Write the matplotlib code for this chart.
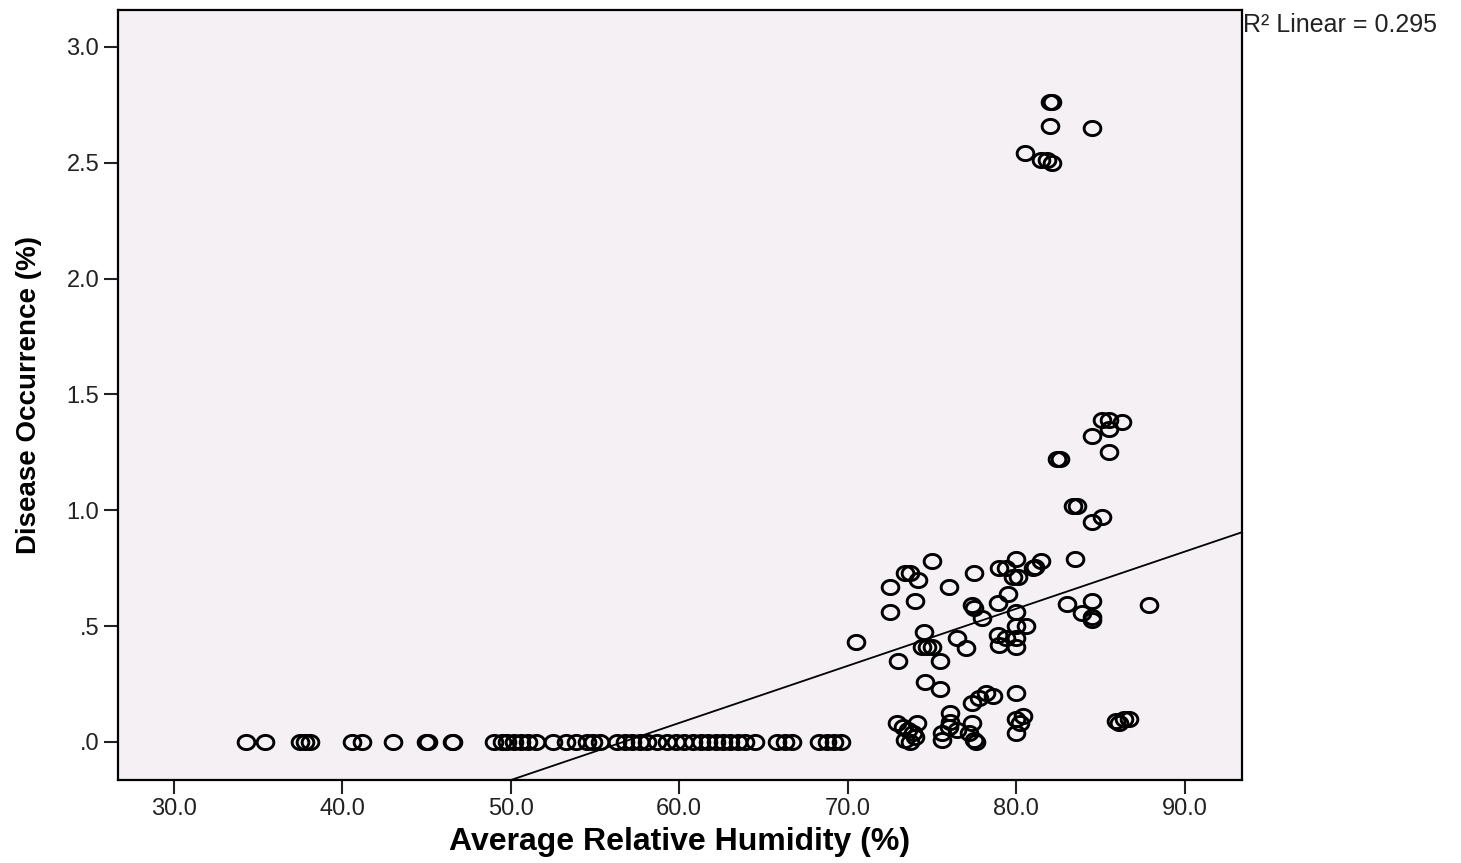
import numpy as np
import matplotlib.pyplot as plt
from matplotlib.path import Path
from matplotlib.ticker import FixedLocator, FuncFormatter

plt.rcParams['font.family'] = ['Liberation Sans', 'DejaVu Sans']

# stations with no disease recorded
x_zero = [34.3, 35.4, 37.5, 37.8, 38.1, 40.6, 41.2, 43.0, 45.0, 45.1, 46.5, 46.6,
          49.0, 49.5, 49.8, 50.2, 50.6, 51.0, 51.5, 52.5, 53.3, 53.9, 54.5, 54.9,
          55.3, 56.3, 56.8, 57.2, 57.7, 58.1, 58.7, 59.3, 59.8, 60.3, 60.8, 61.3,
          61.7, 62.2, 62.6, 63.0, 63.5, 63.9, 64.5, 65.8, 66.3, 66.7, 68.3, 68.8,
          69.2, 69.6]

# humid stations (RH %, disease %)
rh_hi = [82.0, 82.1, 82.0, 84.5, 80.5, 81.5, 81.8, 82.1,
         85.1, 85.5, 86.3, 85.5, 84.5, 85.5, 82.4, 82.6, 83.4, 83.6, 84.5, 85.1,
         81.5, 81.1, 83.5, 83.0, 84.5, 87.9, 83.9, 84.5, 84.5,
         70.5, 72.5, 72.5, 73.4, 73.7, 74.2, 75.0, 74.0, 76.0, 77.5,
         79.0, 79.4, 80.0, 80.1, 79.8, 81.0, 79.5, 78.9, 77.4, 77.5, 78.0, 80.0,
         74.5, 74.4, 74.7, 75.0, 76.5, 77.0, 73.0, 75.5,
         78.9, 79.4, 80.0, 80.6, 80.0, 80.0, 79.0,
         74.6, 75.5, 77.4, 77.8, 78.2, 78.6, 80.0,
         72.9, 73.3, 73.6, 73.9, 73.4, 73.7, 74.1, 74.0, 75.6, 76.1, 76.1, 76.0,
         76.5, 75.6, 77.4, 77.5, 77.2, 77.6, 80.0, 80.2, 80.0, 80.4,
         85.9, 86.1, 86.4, 86.7]
dis_hi = [2.76, 2.76, 2.66, 2.65, 2.54, 2.51, 2.51, 2.50,
          1.39, 1.39, 1.38, 1.35, 1.32, 1.25, 1.22, 1.22, 1.02, 1.02, 0.95, 0.97,
          0.78, 0.755, 0.79, 0.595, 0.61, 0.59, 0.557, 0.54, 0.527,
          0.43, 0.67, 0.56, 0.73, 0.73, 0.70, 0.78, 0.61, 0.67, 0.73,
          0.75, 0.75, 0.79, 0.71, 0.71, 0.75, 0.64, 0.60, 0.59, 0.58, 0.535, 0.56,
          0.475, 0.41, 0.41, 0.41, 0.45, 0.405, 0.35, 0.35,
          0.46, 0.45, 0.50, 0.50, 0.45, 0.41, 0.42,
          0.26, 0.23, 0.17, 0.19, 0.21, 0.20, 0.21,
          0.08, 0.065, 0.05, 0.04, 0.01, 0.0, 0.08, 0.02, 0.04, 0.125, 0.086, 0.065,
          0.05, 0.01, 0.08, 0.01, 0.04, 0.0, 0.10, 0.08, 0.04, 0.11,
          0.09, 0.08, 0.10, 0.10]

# linear fit reported with the survey (R2 = 0.295)
fit_slope = 0.02465
fit_intercept = -1.397
r2_text = 'R² Linear = 0.295'

x_ticks = [30, 40, 50, 60, 70, 80, 90]
y_ticks = [0.0, 0.5, 1.0, 1.5, 2.0, 2.5, 3.0]

rh = np.array(x_zero + rh_hi)
dis = np.array([0.0] * len(x_zero) + dis_hi)

fig = plt.figure(figsize=(14.61, 8.63), dpi=100)
ax = fig.add_axes([0.0808, 0.0962, 0.7693, 0.8922])
ax.set_facecolor('#f4f0f4')

# slightly flattened open circles
t = np.linspace(0, 2 * np.pi, 60)
ell = Path(np.column_stack([np.cos(t), 0.85 * np.sin(t)]), closed=True)
ax.plot(rh, dis, linestyle='none', marker=ell, markersize=12,
        markerfacecolor='none', markeredgecolor='black', markeredgewidth=2.1)

ax.set_xlim(26.7, 93.4)
ax.set_ylim(-0.164, 3.159)
xx = np.array(ax.get_xlim())
ax.plot(xx, fit_intercept + fit_slope * xx, color='black', linewidth=1.3)

ax.xaxis.set_major_locator(FixedLocator(x_ticks))
ax.yaxis.set_major_locator(FixedLocator(y_ticks))
ax.xaxis.set_major_formatter(FuncFormatter(lambda v, p: '%.1f' % v))
ax.yaxis.set_major_formatter(FuncFormatter(lambda v, p: ('%.1f' % v).lstrip('0') if v < 1 else '%.1f' % v))
ax.tick_params(direction='out', length=10, width=1.5, labelsize=17, colors='#222222')
ax.tick_params(axis='x', pad=3)
for s in ax.spines.values():
    s.set_linewidth(1.6)

ax.set_xlabel('Average Relative Humidity (%)', fontsize=23, fontweight='bold', labelpad=5)
ax.set_ylabel('Disease Occurrence (%)', fontsize=20, fontweight='bold', labelpad=18)

fig.text(0.851, 0.985, r2_text, fontsize=18, ha='left', va='top', color='#222222')

plt.savefig('out.png', dpi=100)
